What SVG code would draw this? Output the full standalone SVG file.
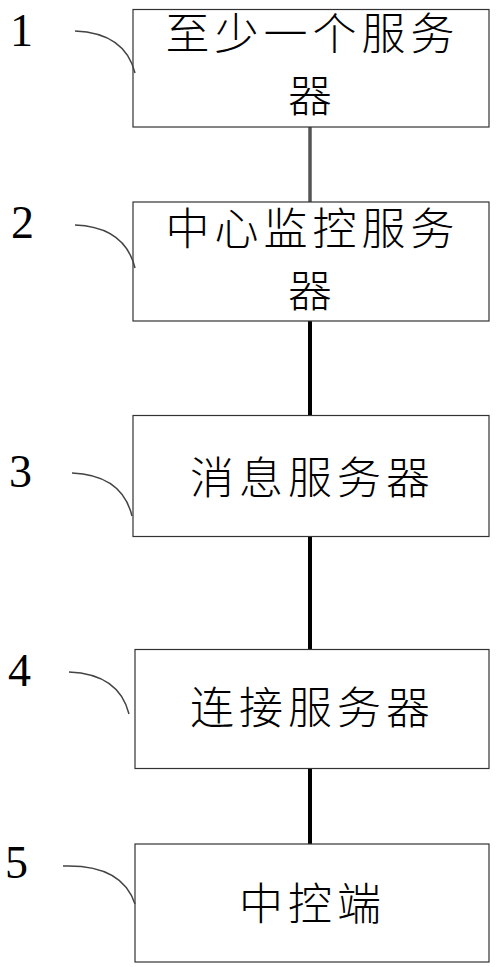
<svg xmlns="http://www.w3.org/2000/svg" width="498" height="967" viewBox="0 0 498 967">
<style>
.box{fill:#fff;stroke:#333;stroke-width:1.2}
.t{font-family:"Noto Sans CJK SC","Noto Sans",sans-serif;font-size:44px;font-weight:300;letter-spacing:5px;text-anchor:middle;fill:#000}
.n{font-family:"Liberation Serif",serif;font-size:46px;fill:#000}
.lead{fill:none;stroke:#444;stroke-width:1.5}
.c{stroke:#000;stroke-width:4}
</style>
<rect width="498" height="967" fill="#fff"/>
<g id="connectors">
<line class="c" x1="310" y1="127" x2="310" y2="202" style="stroke:#555;stroke-width:3.5"/>
<line class="c" x1="310" y1="321" x2="310" y2="415"/>
<line class="c" x1="310" y1="537" x2="310" y2="649"/>
<line class="c" x1="310" y1="768" x2="310" y2="844"/>
</g>
<g id="node1">
<rect class="box" x="133" y="9.5" width="356" height="117.5"/>
<text class="t" x="312.5" y="50">至少一个服务</text>
<text class="t" x="312.5" y="112">器</text>
<text class="n" x="10" y="46">1</text>
<path class="lead" d="M75,31 Q125,33 135,73"/>
</g>
<g id="node2">
<rect class="box" x="133" y="202" width="356" height="119"/>
<text class="t" x="312.5" y="245">中心监控服务</text>
<text class="t" x="312.5" y="307">器</text>
<text class="n" x="11" y="238">2</text>
<path class="lead" d="M75,225 Q125,227 135,268"/>
</g>
<g id="node3">
<rect class="box" x="133" y="415.5" width="356" height="121"/>
<text class="t" x="312.5" y="494">消息服务器</text>
<text class="n" x="9" y="487">3</text>
<path class="lead" d="M72,473 Q122,475 132,516"/>
</g>
<g id="node4">
<rect class="box" x="135" y="649.5" width="354" height="119"/>
<text class="t" x="312.5" y="724">连接服务器</text>
<text class="n" x="8" y="686">4</text>
<path class="lead" d="M69,672 Q119,674 129,714"/>
</g>
<g id="node5">
<rect class="box" x="135" y="844" width="354" height="118"/>
<text class="t" x="312.5" y="920">中控端</text>
<text class="n" x="5" y="878">5</text>
<path class="lead" d="M63,866 Q122,864 135,904"/>
</g>
</svg>
